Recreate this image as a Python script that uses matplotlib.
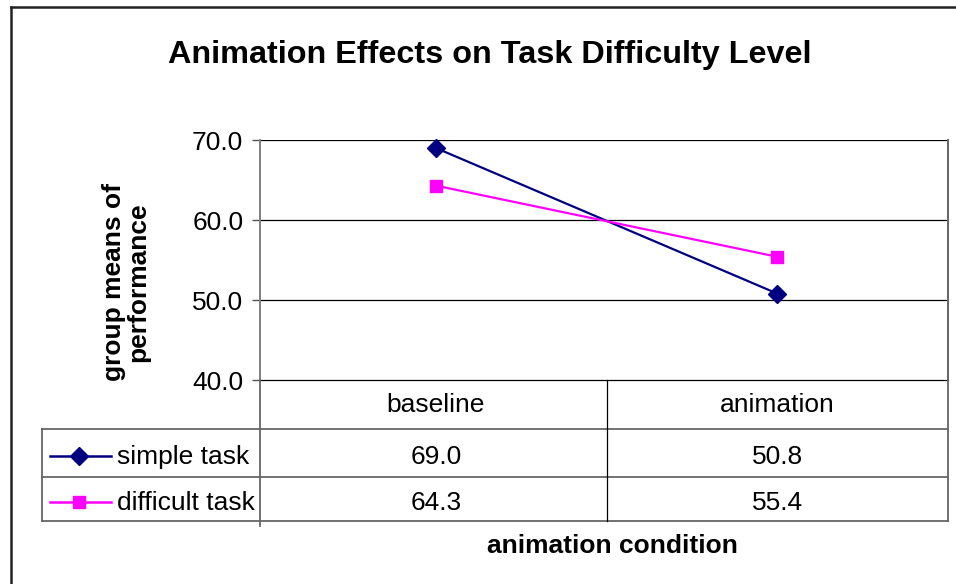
import matplotlib
matplotlib.use("Agg")
from matplotlib import pyplot as plt
from matplotlib.lines import Line2D
from matplotlib.transforms import blended_transform_factory

categories = ["baseline", "animation"]
series_names = ["simple task", "difficult task"]
simple_task = [69.0, 50.8]
difficult_task = [64.3, 55.4]
y_ticks = [40.0, 50.0, 60.0, 70.0]

W, H = 956, 584
plt.rcParams["font.family"] = ["Liberation Sans", "DejaVu Sans"]

fig = plt.figure(figsize=(W / 100, H / 100), dpi=100)


def fx(px):
    return px / W


def fy(py):
    return 1 - py / H


ax = fig.add_axes([fx(260), fy(380), fx(948) - fx(260), fy(140) - fy(380)])

x = [0.5, 1.5]
styles = [
    dict(color="#000080", marker="D", markersize=9.5),
    dict(color="#FF00FF", marker="s", markersize=9),
]
for vals, st in zip([simple_task, difficult_task], styles):
    ax.plot(x, vals, lw=1.6, clip_on=False, **st)

ax.set_xlim(-0.015, 2)
ax.set_ylim(40, 70)
ax.set_yticks(y_ticks)
ax.set_yticklabels([f"{v:.1f}" for v in y_ticks], fontsize=19)
ax.set_xticks([])
ax.tick_params(axis="y", direction="out", length=6, width=1, pad=6, color="#555555")
for v in y_ticks[1:]:
    ax.axhline(v, color="black", lw=0.9, zorder=0)
ax.spines["top"].set_visible(False)
ax.spines["bottom"].set_visible(False)
ax.spines["left"].set_color("#808080")
ax.spines["left"].set_linewidth(1.4)
ax.spines["right"].set_color("#808080")
ax.spines["right"].set_linewidth(1.4)

fig.text(fx(490), fy(63), "Animation Effects on Task Difficulty Level",
         ha="center", va="baseline", fontsize=23.3, fontweight="bold")
fig.text(fx(126), fy(282), "group means of\nperformance", rotation=90,
         ha="center", va="center", fontsize=19, fontweight="bold",
         linespacing=1.0)
fig.text(fx(612), fy(546), "animation condition", ha="center", va="center",
         fontsize=19, fontweight="bold")

# data table under the plot
bt = blended_transform_factory(ax.transData, fig.transFigure)
row_y = [380, 429, 477, 521]
gray = "#666666"
fig.add_artist(Line2D([fx(260), fx(948)], [fy(380)] * 2, color="black", lw=0.9))
for py in row_y[1:]:
    fig.add_artist(Line2D([fx(42), fx(948)], [fy(py)] * 2, color=gray, lw=1.3))
fig.add_artist(Line2D([fx(260)] * 2, [fy(380), fy(526)], color=gray, lw=1.3))
fig.add_artist(Line2D([fx(42)] * 2, [fy(429), fy(521)], color=gray, lw=1.3))
fig.add_artist(Line2D([1.0, 1.0], [fy(380), fy(521)], color="black", lw=0.9,
                      transform=bt))
fig.add_artist(Line2D([fx(948)] * 2, [fy(140), fy(521)], color=gray, lw=1.3))

for xi, cat in zip(x, categories):
    fig.text(xi, fy(405), cat, transform=bt, ha="center", va="center", fontsize=19)

for r, (name, vals, st) in enumerate(zip(series_names, [simple_task, difficult_task], styles)):
    yc = (row_y[r + 1] + row_y[r + 2]) / 2
    fig.add_artist(Line2D([fx(50), fx(111)], [fy(yc + 3)] * 2, color=st["color"], lw=1.8))
    fig.add_artist(Line2D([fx(79)], [fy(yc + 3)], color=st["color"], marker=st["marker"],
                          markersize=st["markersize"]))
    fig.text(fx(117), fy(yc + 4), name, ha="left", va="center", fontsize=19)
    for xi, v in zip(x, vals):
        fig.text(xi, fy(yc + 4), f"{v:.1f}", transform=bt, ha="center", va="center",
                 fontsize=19)

# outer chart frame
fig.add_artist(Line2D([fx(11)] * 2, [fy(7), 0], color="#222222", lw=1.8))
fig.add_artist(Line2D([fx(11), 1], [fy(7)] * 2, color="#222222", lw=1.8))

fig.savefig("out.png", dpi=100)
